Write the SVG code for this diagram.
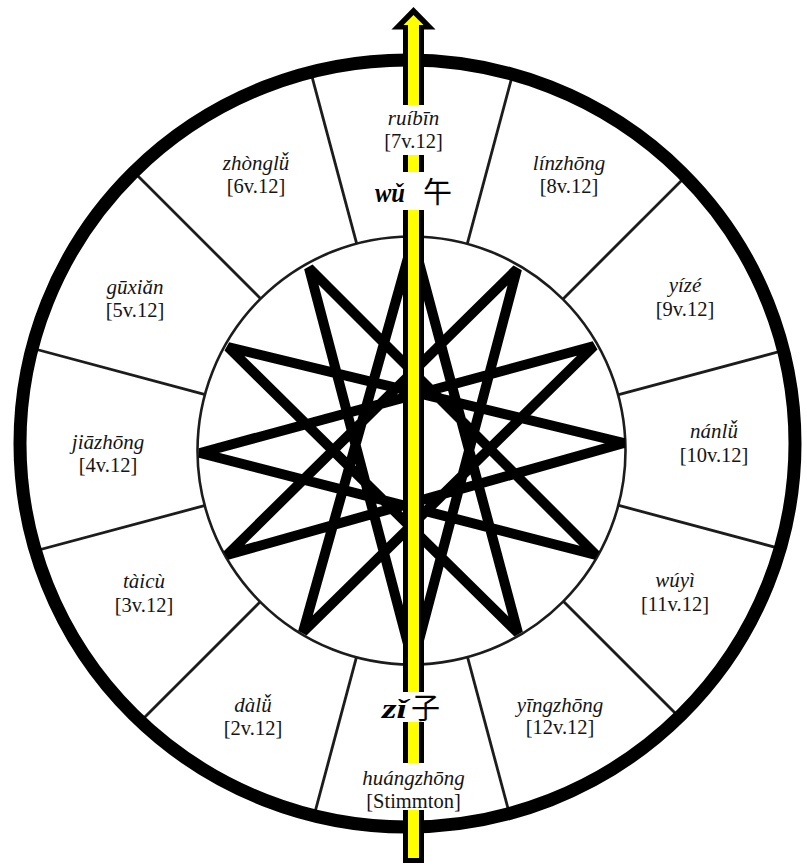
<svg xmlns="http://www.w3.org/2000/svg" width="807" height="866" viewBox="0 0 807 866">
<style>
.it{font-family:"Liberation Serif","Times New Roman",serif;font-style:italic;font-size:21px;fill:#151515;text-anchor:middle}
.rg{font-family:"Liberation Serif","Times New Roman",serif;font-size:20.5px;fill:#151515;text-anchor:middle}
.big{font-family:"Liberation Serif","Times New Roman",serif;font-style:italic;font-weight:bold;font-size:28px;fill:#000}
.cjk{font-family:"Noto Sans CJK SC","Noto Sans CJK JP",sans-serif;font-size:29px;fill:#000}
.spoke{stroke:#1c1c1c;stroke-width:2.8;fill:none}
.gap{fill:#fff}
</style>
<defs>
<clipPath id="inside"><ellipse cx="407.5" cy="443.5" rx="387" ry="384"/></clipPath>
</defs>
<rect width="807" height="866" fill="#fff"/>
<g id="connectors">
<g id="spokes" clip-path="url(#inside)" class="spoke">
<line x1="618.7" y1="394.6" x2="798.4" y2="346.5"/>
<line x1="563.3" y1="298.7" x2="694.8" y2="167.2"/>
<line x1="467.4" y1="243.3" x2="515.5" y2="63.6"/>
<line x1="356.6" y1="243.3" x2="308.5" y2="63.6"/>
<line x1="260.7" y1="298.7" x2="129.2" y2="167.2"/>
<line x1="205.3" y1="394.6" x2="25.6" y2="346.5"/>
<line x1="205.3" y1="505.4" x2="25.6" y2="553.5"/>
<line x1="260.7" y1="601.3" x2="129.2" y2="732.8"/>
<line x1="356.6" y1="656.7" x2="308.5" y2="836.4"/>
<line x1="467.4" y1="656.7" x2="515.5" y2="836.4"/>
<line x1="563.3" y1="601.3" x2="694.8" y2="732.8"/>
<line x1="618.7" y1="505.4" x2="798.4" y2="553.5"/>
</g>
</g>
<g id="inner-circle"><circle cx="411.5" cy="450.5" r="214" fill="none" stroke="#1c1c1c" stroke-width="2.6"/></g>
<g id="star"><polygon points="413,240 303,632 594,346 200,453 596,555 309,268 413,663 517,269 227,555 624,443 228,347 518,633" fill="none" stroke="#000" stroke-width="10" stroke-linejoin="bevel"/></g>
<g id="outer-ring"><ellipse cx="407.5" cy="443.5" rx="387.5" ry="383.5" fill="none" stroke="#000" stroke-width="13"/></g>
<g id="axis-arrow">
<polygon points="413.5,7 435.5,29.5 424,29.5 424,863 403,863 403,29.5 391.5,29.5" fill="#000"/>
<polygon points="413.5,15 423.5,25 419,25 419,858 408,858 408,25 403.5,25" fill="#ffff00"/>
<rect class="gap" x="398" y="105" width="31" height="50"/>
<rect class="gap" x="398" y="172" width="31" height="38"/>
<rect class="gap" x="398" y="692" width="31" height="30"/>
<rect class="gap" x="398" y="763" width="31" height="47"/>
</g>
<g id="wu"><text class="big" x="375" y="202" textLength="30" lengthAdjust="spacingAndGlyphs">wǔ</text><text class="cjk" x="423" y="203">午</text></g>
<g id="zi"><text class="big" x="382" y="718" textLength="25" lengthAdjust="spacingAndGlyphs">zǐ</text><text class="cjk" x="411" y="719">子</text></g>
<g id="ruibin"><text class="it" x="413.5" y="125">ruíbīn</text><text class="rg" x="413.5" y="148">[7v.12]</text></g>
<g id="zhonglu"><text class="it" x="256" y="170">zhònglǚ</text><text class="rg" x="256" y="193">[6v.12]</text></g>
<g id="linzhong"><text class="it" x="569" y="170">línzhōng</text><text class="rg" x="569" y="193">[8v.12]</text></g>
<g id="guxian"><text class="it" x="135" y="294">gūxiǎn</text><text class="rg" x="135" y="317">[5v.12]</text></g>
<g id="yize"><text class="it" x="685" y="292">yízé</text><text class="rg" x="685" y="316">[9v.12]</text></g>
<g id="jiazhong"><text class="it" x="108" y="449">jiāzhōng</text><text class="rg" x="108" y="472">[4v.12]</text></g>
<g id="nanlu"><text class="it" x="714" y="438">nánlǚ</text><text class="rg" x="714" y="462">[10v.12]</text></g>
<g id="taicu"><text class="it" x="144" y="588">tàicù</text><text class="rg" x="144" y="612">[3v.12]</text></g>
<g id="wuyi"><text class="it" x="675" y="587">wúyì</text><text class="rg" x="675" y="611">[11v.12]</text></g>
<g id="dalu"><text class="it" x="253" y="712">dàlǚ</text><text class="rg" x="253" y="735">[2v.12]</text></g>
<g id="yingzhong"><text class="it" x="560" y="712">yīngzhōng</text><text class="rg" x="560" y="734">[12v.12]</text></g>
<g id="huangzhong"><text class="it" x="413.5" y="785">huángzhōng</text><text class="rg" x="413.5" y="808">[Stimmton]</text></g>
</svg>
